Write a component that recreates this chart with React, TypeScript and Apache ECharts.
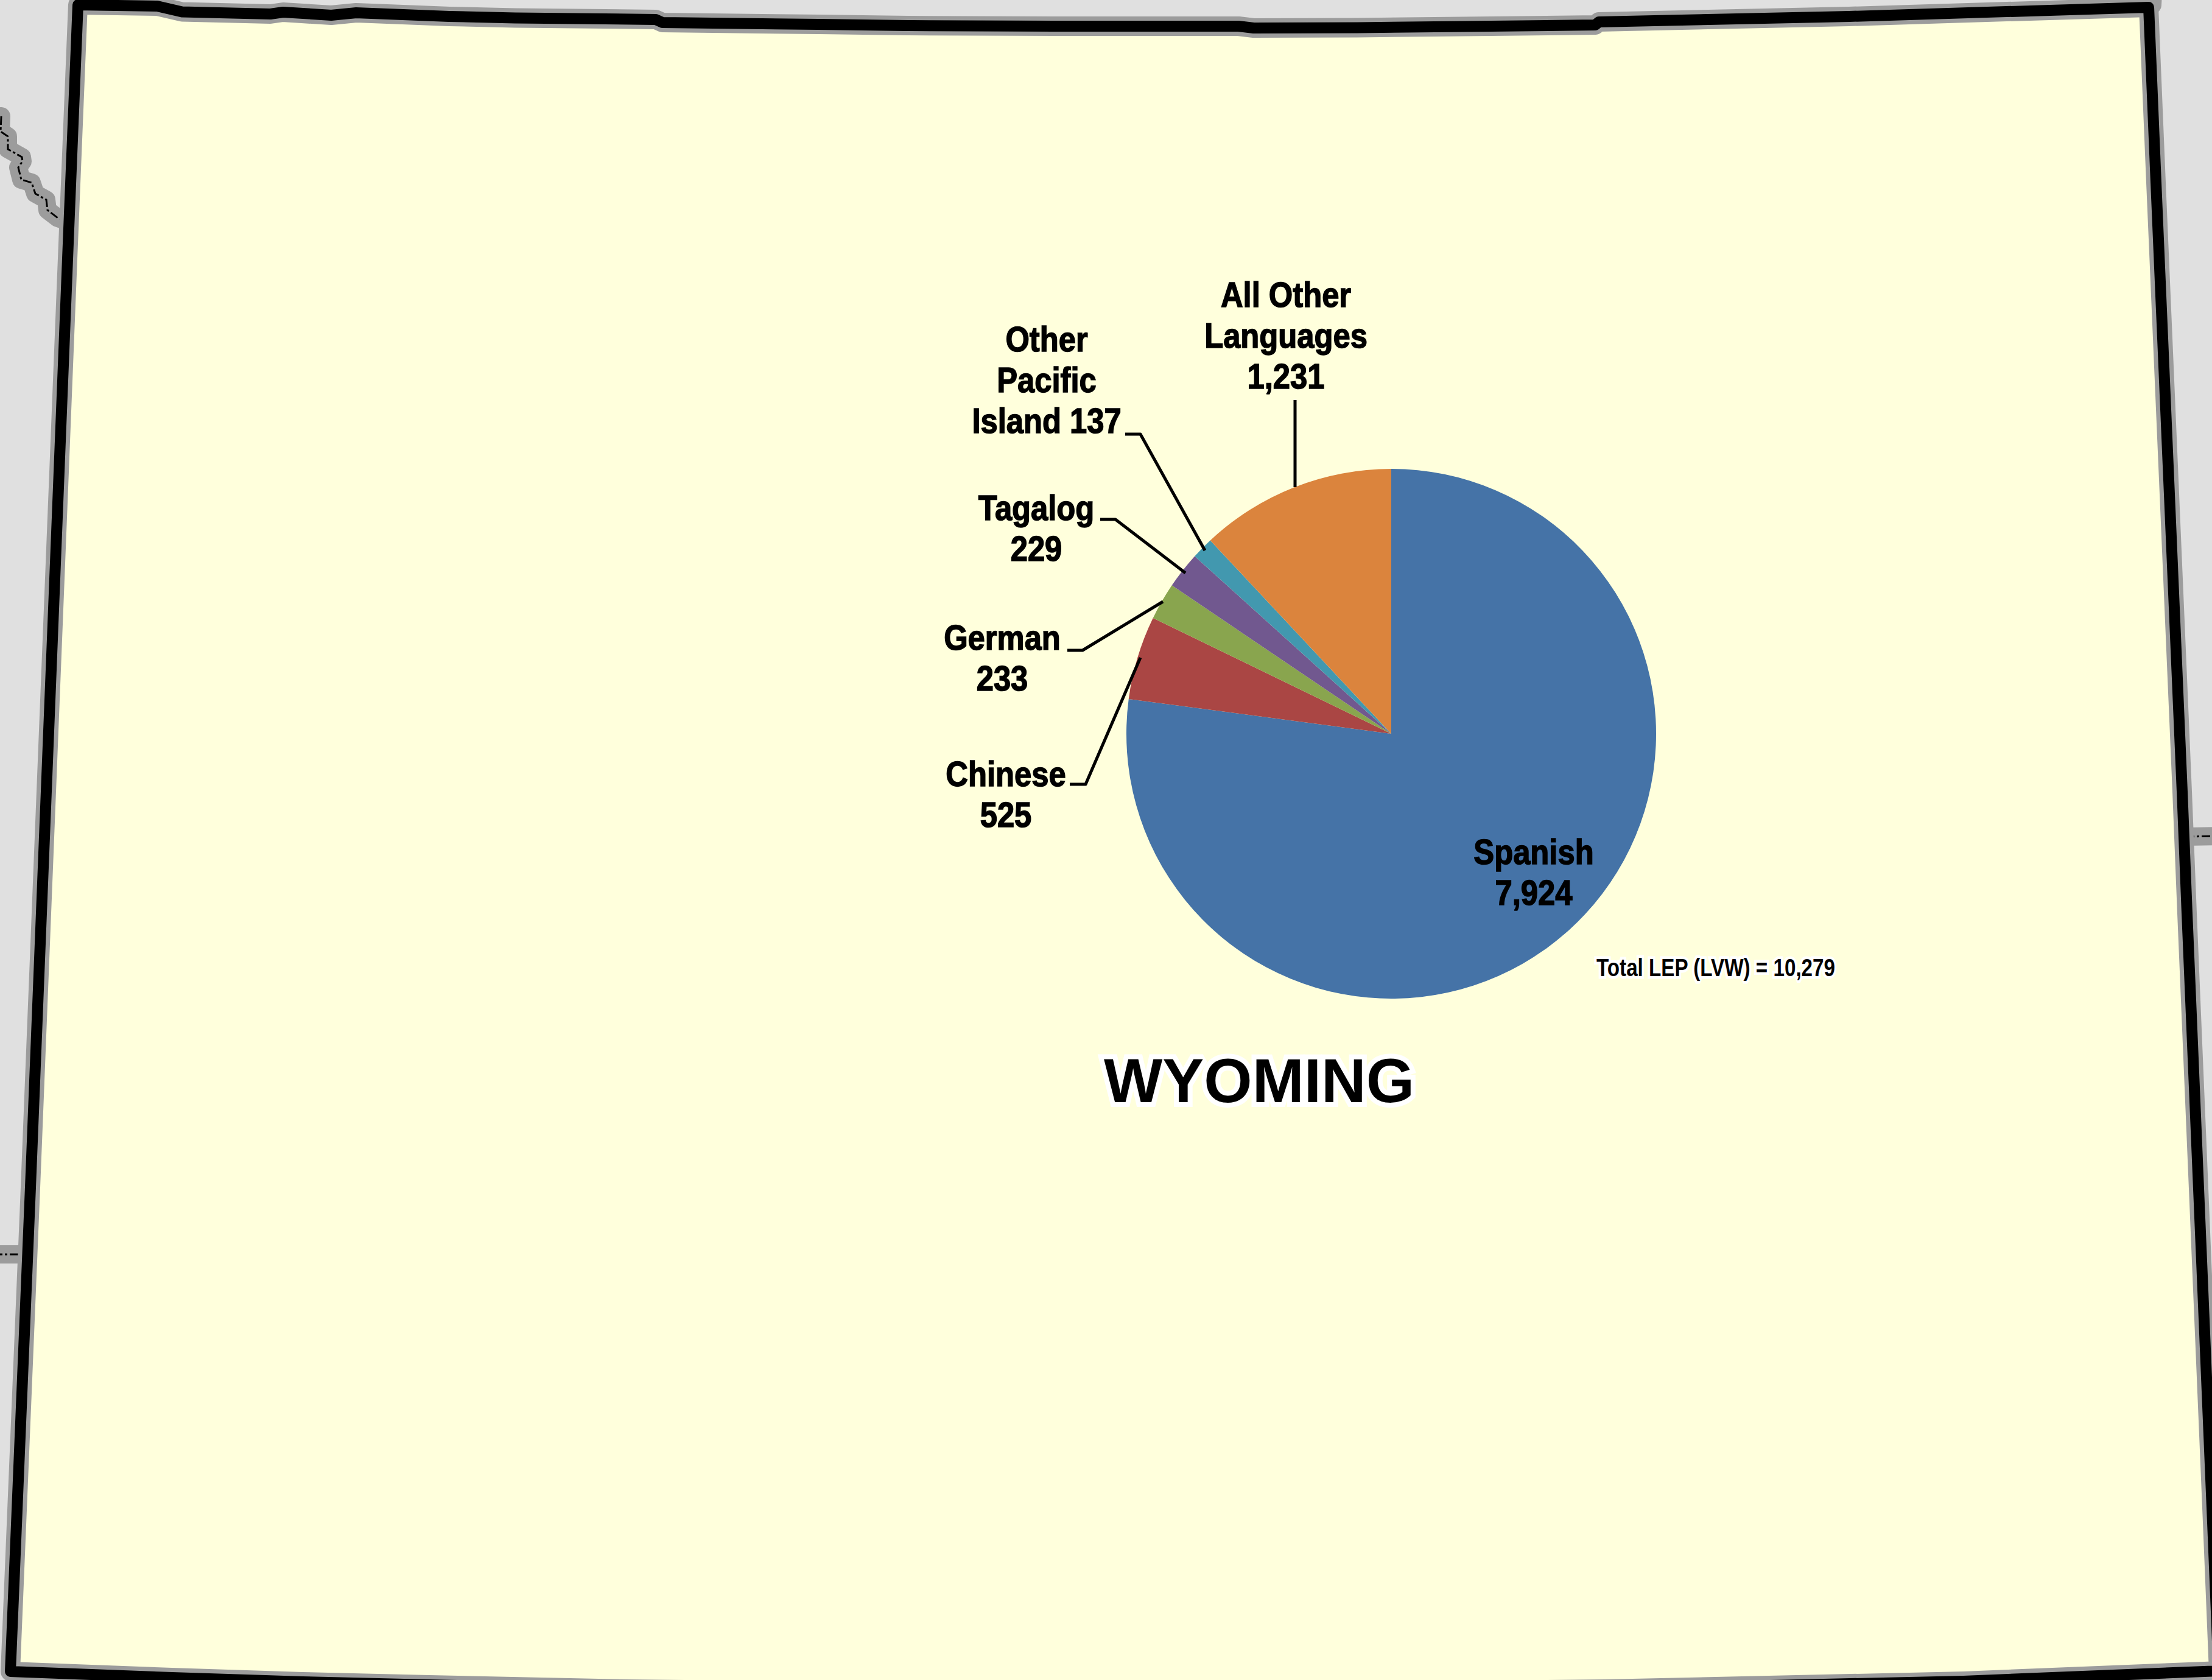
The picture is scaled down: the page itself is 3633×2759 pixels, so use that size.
import React, { useEffect, useRef } from "react";
import * as echarts from "echarts";

const categories = ["Spanish", "Chinese", "German", "Tagalog", "Other Pacific Island", "All Other Languages"];
const values = [7924, 525, 233, 229, 137, 1231];
const labelTexts = ["Spanish\n7,924", "Chinese\n525", "German\n233", "Tagalog\n229", "Other\nPacific\nIsland 137", "All Other\nLanguages\n1,231"];
const sliceColors = ["#4573A7", "#AA4644", "#89A54E", "#71588F", "#4298AF", "#DB843D"];
const stateTitle = "WYOMING";
const totalNote = "Total LEP (LVW) = 10,279";

const WIDTH = 3633;
const HEIGHT = 2759;
const FONT = '"Liberation Sans", Arial, sans-serif';

const labelCentres = [[2519, 1432], [1652, 1304], [1646, 1080], [1702, 867], [1719, 624], [2112, 551]];
const leaderLines = [
  null,
  [[1757, 1288], [1783, 1288], [1873, 1080]],
  [[1753, 1068], [1778, 1068], [1910, 988]],
  [[1807, 853], [1832, 853], [1947, 941]],
  [[1848, 713], [1873, 713], [1979, 904]],
  [[2127, 657], [2127, 800]],
];

const stateOutline = [
  [128, 8], [258, 10], [299, 19.5], [444, 23], [465, 20], [544, 25], [585, 21], [738, 27], [846, 29.5],
  [1077, 32], [1088, 37], [1344, 40], [1491, 42], [1732, 43], [2034, 43], [2059, 46], [2229, 45.5],
  [2620, 41], [2626, 36], [3037, 27], [3529, 12],
  [3541, 300], [3584, 1300], [3592, 1500], [3634, 2500], [3644, 2744],
  [3225, 2761], [2636, 2774], [1800, 2782], [1028, 2774], [705, 2767], [497, 2762], [282, 2755], [17, 2745],
  [50, 1950], [112, 400],
];
const borderRiver = [[2, 191], [1, 216], [13, 224], [13, 245], [22, 250], [36, 258], [37, 265], [30, 275], [35, 295], [52, 300], [58, 318], [76, 328], [78, 345], [95, 358], [106, 362]];
const borderWest = [[-10, 2060], [40, 2060]];
const borderEast = [[3590, 1374], [3643, 1373]];
const borderNorthEast = [[3535, 8], [3537, -30]];

const GREY = "#9C9C9C";

function neighbour(points: number[][]) {
  return [
    { type: "polyline", shape: { points }, style: { stroke: GREY, lineWidth: 30, lineCap: "round", lineJoin: "round", fill: "none" }, z: 0 },
    { type: "polyline", shape: { points }, style: { stroke: "#000", lineWidth: 3, lineDash: [14, 4, 4, 4], fill: "none" }, z: 0 },
  ];
}

export default function App() {
  const ref = useRef<HTMLDivElement>(null);
  useEffect(() => {
    document.body.style.margin = "0";
    const chart = echarts.init(ref.current!, null, { renderer: "svg" });
    chart.setOption({
      animation: false,
      backgroundColor: "#E0E0E0",
      title: [
        {
          text: stateTitle, left: 2068, top: 1775, padding: 0, textAlign: "center", textVerticalAlign: "middle", z: 10,
          textStyle: { fontFamily: FONT, fontWeight: "bold", fontSize: 102, color: "#000", textBorderColor: "#fff", textBorderWidth: 16 },
        },
      ],
      graphic: [
        ...neighbour(borderRiver),
        ...neighbour(borderWest),
        ...neighbour(borderEast),
        ...neighbour(borderNorthEast),
        { type: "polygon", shape: { points: stateOutline }, style: { fill: "#FFFFDC", stroke: GREY, lineWidth: 32, lineJoin: "round" }, z: 1 },
        { type: "polygon", shape: { points: stateOutline }, style: { fill: "none", stroke: "#000", lineWidth: 18, lineJoin: "round" }, z: 1 },
        ...leaderLines.filter(Boolean).map((points) => ({
          type: "polyline", shape: { points }, style: { stroke: "#000", lineWidth: 5, lineJoin: "round", fill: "none" }, z: 20,
        })),
        ...labelTexts.map((text, i) => ({
          type: "text", x: labelCentres[i][0], y: labelCentres[i][1], scaleX: 0.89, z: 20,
          style: { text, fontFamily: FONT, fontWeight: "bold", fontSize: 57, lineHeight: 67, fill: "#000", stroke: "#000", lineWidth: 1.5, align: "center", verticalAlign: "middle" },
        })),
        {
          type: "text", x: 2818, y: 1589, scaleX: 0.83, z: 20,
          style: { text: totalNote, fontFamily: FONT, fontWeight: "bold", fontSize: 40, fill: "#000", stroke: "#fff", lineWidth: 9, align: "center", verticalAlign: "middle" },
        },
      ],
      series: [
        {
          type: "pie",
          center: [2285, 1205],
          radius: [0, 435],
          startAngle: 90,
          clockwise: true,
          z: 5,
          label: { show: false },
          labelLine: { show: false },
          data: categories.map((name, i) => ({
            name,
            value: values[i],
            itemStyle: { color: sliceColors[i] },
          })),
        },
      ],
    });
    return () => chart.dispose();
  }, []);
  return <div ref={ref} style={{ position: "absolute", left: 0, top: 0, width: WIDTH, height: HEIGHT }} />;
}
